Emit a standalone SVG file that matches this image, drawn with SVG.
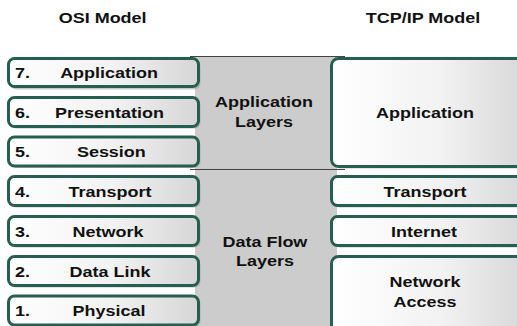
<svg xmlns="http://www.w3.org/2000/svg" width="517" height="326" viewBox="0 0 517 326">
<defs>
<linearGradient id="g" x1="0" y1="0" x2="1" y2="0">
<stop offset="0" stop-color="#ffffff"/>
<stop offset="0.55" stop-color="#f2f2f2"/>
<stop offset="1" stop-color="#d6d6d6"/>
</linearGradient>
</defs>
<style>
.box{fill:url(#g);stroke:#275e50;stroke-width:3}
.sh{fill:#9a9a9a;opacity:0.55}
text{font-family:"Liberation Sans",Arial,sans-serif;font-weight:bold;font-size:15.5px;fill:#111}
.c{text-anchor:middle}
</style>
<rect width="517" height="326" fill="#ffffff"/>
<rect x="195" y="56" width="142" height="270" fill="#cccccc"/>
<g id="connectors">
<line x1="190" y1="56.5" x2="345" y2="56.5" stroke="#444" stroke-width="1"/>
<line x1="190" y1="169.5" x2="345" y2="169.5" stroke="#444" stroke-width="1"/>
</g>
<g id="title-osi"><text class="c" x="88.5" y="23.3" transform="scale(1.16 1)">OSI Model</text></g>
<g id="title-tcp"><text class="c" x="364.7" y="23.3" transform="scale(1.16 1)">TCP/IP Model</text></g>
<g id="osi7"><rect class="sh" x="10.5" y="60.5" width="190" height="29" rx="6"/><rect class="box" x="8.5" y="58.5" width="190" height="28" rx="6"/><text x="12.9" y="78.3" transform="scale(1.16 1)">7.</text><text class="c" x="94.0" y="78.3" transform="scale(1.16 1)">Application</text></g>
<g id="osi6"><rect class="sh" x="10.5" y="99.5" width="190" height="29" rx="6"/><rect class="box" x="8.5" y="97.5" width="190" height="29" rx="6"/><text x="12.9" y="118" transform="scale(1.16 1)">6.</text><text class="c" x="94.4" y="118" transform="scale(1.16 1)">Presentation</text></g>
<g id="osi5"><rect class="sh" x="10.5" y="139" width="190" height="29" rx="6"/><rect class="box" x="8.5" y="137" width="190" height="29" rx="6"/><text x="12.9" y="157.5" transform="scale(1.16 1)">5.</text><text class="c" x="96.0" y="157.5" transform="scale(1.16 1)">Session</text></g>
<g id="osi4"><rect class="sh" x="10.5" y="178.5" width="190" height="29" rx="6"/><rect class="box" x="8.5" y="176.5" width="190" height="29" rx="6"/><text x="12.9" y="196.7" transform="scale(1.16 1)">4.</text><text class="c" x="94.8" y="196.7" transform="scale(1.16 1)">Transport</text></g>
<g id="osi3"><rect class="sh" x="10.5" y="218.5" width="190" height="29" rx="6"/><rect class="box" x="8.5" y="216.5" width="190" height="29" rx="6"/><text x="12.9" y="236.7" transform="scale(1.16 1)">3.</text><text class="c" x="93.1" y="236.7" transform="scale(1.16 1)">Network</text></g>
<g id="osi2"><rect class="sh" x="10.5" y="258.5" width="190" height="29" rx="6"/><rect class="box" x="8.5" y="256.5" width="190" height="29" rx="6"/><text x="12.9" y="276.7" transform="scale(1.16 1)">2.</text><text class="c" x="94.8" y="276.7" transform="scale(1.16 1)">Data Link</text></g>
<g id="osi1"><rect class="sh" x="10.5" y="298" width="190" height="29" rx="6"/><rect class="box" x="8.5" y="296" width="190" height="29" rx="6"/><text x="12.9" y="316.5" transform="scale(1.16 1)">1.</text><text class="c" x="94.0" y="316.5" transform="scale(1.16 1)">Physical</text></g>
<g id="app-layers"><text class="c" x="227.6" y="107.5" transform="scale(1.16 1)">Application</text><text class="c" x="227.6" y="127" transform="scale(1.16 1)">Layers</text></g>
<g id="flow-layers"><text class="c" x="228.4" y="246.7" transform="scale(1.16 1)">Data Flow</text><text class="c" x="228.4" y="266" transform="scale(1.16 1)">Layers</text></g>
<g id="tcp-app"><rect class="sh" x="333.5" y="60.5" width="200" height="108" rx="7"/><rect class="box" x="331.5" y="58.5" width="200" height="108" rx="7"/><text class="c" x="366.4" y="118.3" transform="scale(1.16 1)">Application</text></g>
<g id="tcp-transport"><rect class="sh" x="333.5" y="178.5" width="200" height="29" rx="6"/><rect class="box" x="331.5" y="176.5" width="200" height="29" rx="6"/><text class="c" x="366.4" y="196.7" transform="scale(1.16 1)">Transport</text></g>
<g id="tcp-internet"><rect class="sh" x="333.5" y="218.5" width="200" height="29" rx="6"/><rect class="box" x="331.5" y="216.5" width="200" height="29" rx="6"/><text class="c" x="365.5" y="236.7" transform="scale(1.16 1)">Internet</text></g>
<g id="tcp-netaccess"><rect class="sh" x="333.5" y="258.5" width="200" height="80" rx="7"/><rect class="box" x="331.5" y="256.5" width="200" height="80" rx="7"/><text class="c" x="366.4" y="286.7" transform="scale(1.16 1)">Network</text><text class="c" x="366.4" y="306.7" transform="scale(1.16 1)">Access</text></g>
</svg>
